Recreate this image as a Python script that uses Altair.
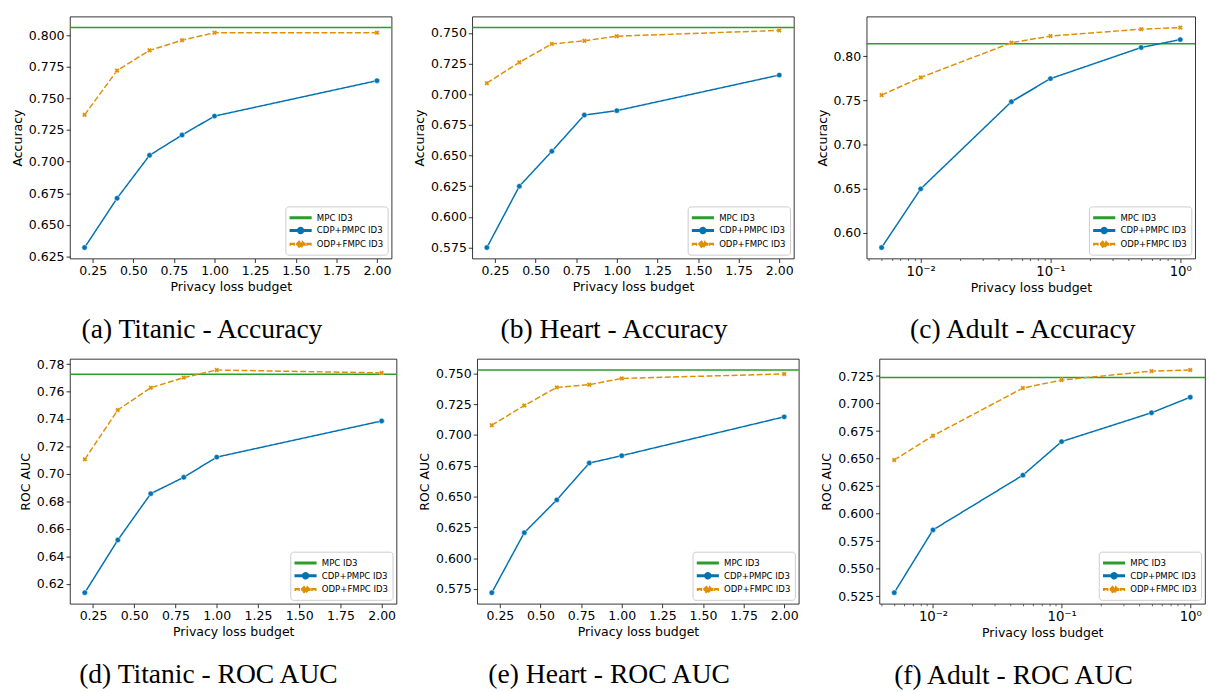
import math
import altair as alt
import pandas as pd

# ---------------- data ----------------
SERIES = ["MPC ID3", "CDP+PMPC ID3", "ODP+FMPC ID3"]
COLORS = ["#2a9d2a", "#0173b2", "#de8f05"]

BUDGET_LIN = [0.2, 0.4, 0.6, 0.8, 1.0, 2.0]
BUDGET_LOG = [0.005, 0.01, 0.05, 0.1, 0.5, 1.0]

TITANIC_ACC_CDP = [0.632, 0.671, 0.705, 0.721, 0.736, 0.764]
TITANIC_ACC_ODP = [0.737, 0.772, 0.788, 0.796, 0.802, 0.802]
TITANIC_ACC_MPC = 0.806

HEART_ACC_CDP = [0.575, 0.625, 0.6535, 0.683, 0.6866, 0.7156]
HEART_ACC_ODP = [0.709, 0.726, 0.741, 0.7435, 0.7473, 0.752]
HEART_ACC_MPC = 0.7543

ADULT_ACC_CDP = [0.583, 0.6496, 0.7485, 0.7747, 0.810, 0.819]
ADULT_ACC_ODP = [0.756, 0.776, 0.8154, 0.823, 0.8308, 0.8326]
ADULT_ACC_MPC = 0.8143

TITANIC_AUC_CDP = [0.6136, 0.6519, 0.6857, 0.6976, 0.7123, 0.7386]
TITANIC_AUC_ODP = [0.7107, 0.7466, 0.7628, 0.7702, 0.7757, 0.7736]
TITANIC_AUC_MPC = 0.7726

HEART_AUC_CDP = [0.572, 0.6207, 0.6473, 0.6772, 0.6832, 0.7147]
HEART_AUC_ODP = [0.7079, 0.7239, 0.7386, 0.7408, 0.7459, 0.7495]
HEART_AUC_MPC = 0.7527

ADULT_AUC_CDP = [0.5283, 0.5853, 0.635, 0.6655, 0.6917, 0.7058]
ADULT_AUC_ODP = [0.6488, 0.6708, 0.7141, 0.7214, 0.7295, 0.7305]
ADULT_AUC_MPC = 0.7238

XTICKS_LIN = [0.25, 0.5, 0.75, 1.0, 1.25, 1.5, 1.75, 2.0]
XTICKS_LOG = [0.004, 0.005, 0.006, 0.007, 0.008, 0.009,
              0.01, 0.02, 0.03, 0.04, 0.05, 0.06, 0.07, 0.08, 0.09,
              0.1, 0.2, 0.3, 0.4, 0.5, 0.6, 0.7, 0.8, 0.9, 1.0]
XTICKS_LOG_MAJOR = [0.01, 0.1, 1.0]
XTICKS_LOG_LABELS = ["10⁻²", "10⁻¹", "10⁰"]

YTICKS_TITANIC_ACC = [0.625, 0.65, 0.675, 0.7, 0.725, 0.75, 0.775, 0.8]
YTICKS_HEART_ACC = [0.575, 0.6, 0.625, 0.65, 0.675, 0.7, 0.725, 0.75]
YTICKS_ADULT_ACC = [0.6, 0.65, 0.7, 0.75, 0.8]
YTICKS_TITANIC_AUC = [0.62, 0.64, 0.66, 0.68, 0.7, 0.72, 0.74, 0.76, 0.78]
YTICKS_HEART_AUC = [0.575, 0.6, 0.625, 0.65, 0.675, 0.7, 0.725, 0.75]
YTICKS_ADULT_AUC = [0.525, 0.55, 0.575, 0.6, 0.625, 0.65, 0.675, 0.7, 0.725]

# ---------------- styling helpers ----------------
FONT = "DejaVu Sans"
LEG_SIZE = 169                       # legend symbol size (13 px box)
UNIT = math.sqrt(LEG_SIZE) / 2.0     # px per path unit


def u(px):
    return round(px / UNIT, 3)


def rect(x0, x1, half):
    return f"M{u(x0)},{u(-half)}H{u(x1)}V{u(half)}H{u(x0)}Z"


def circle(r):
    return (f"M{u(-r)},0A{u(r)},{u(r)} 0 1,0 {u(r)},0"
            f"A{u(r)},{u(r)} 0 1,0 {u(-r)},0Z")


def xmark(arm, w):
    pts = [(-w, -arm), (w, -arm), (w, -w), (arm, -w), (arm, w), (w, w),
           (w, arm), (-w, arm), (-w, w), (-arm, w), (-arm, -w), (-w, -w)]
    c = math.sqrt(0.5)
    rot = [((x - y) * c, (x + y) * c) for x, y in pts]
    return "M" + "L".join(f"{u(x)},{u(y)}" for x, y in rot) + "Z"


HALF_LINE = 10.5
LEG_PATHS = [
    rect(-HALF_LINE, HALF_LINE, 0.7),
    rect(-HALF_LINE, HALF_LINE, 0.7) + circle(3.0),
    "".join(rect(a, b, 0.7) for a, b in [(-10.5, -6.5), (-4.5, -2.0), (2.0, 4.5), (6.5, 10.5)])
    + xmark(3.2, 1.0),
]
DASHES = [[1, 0], [1, 0], [6, 2.5]]


def padded(lo, hi):
    r = hi - lo
    return [lo - 0.05 * r, hi + 0.05 * r]


def panel(budget, cdp, odp, mpc, ylabel, yticks, yfmt, caption, log, w, h, cap_dx=0):
    df = pd.DataFrame({
        "budget": list(budget) * 2,
        "value": list(cdp) + list(odp),
        "series": [SERIES[1]] * len(cdp) + [SERIES[2]] * len(odp),
    })
    mdf = pd.DataFrame({"series": [SERIES[0]], "value": [mpc]})
    allv = list(cdp) + list(odp) + [mpc]
    ydom = padded(min(allv), max(allv))

    if log:
        lo, hi = padded(math.log10(min(budget)), math.log10(max(budget)))
        xscale = alt.Scale(type="log", domain=[10 ** lo, 10 ** hi], nice=False)
        major_test = " || ".join(f"datum.value == {v}" for v in XTICKS_LOG_MAJOR)
        label_expr = " : ".join(
            f"datum.value == {v} ? '{t}'" for v, t in zip(XTICKS_LOG_MAJOR, XTICKS_LOG_LABELS)
        ) + " : ''"
        xaxis = alt.Axis(
            title="Privacy loss budget", values=XTICKS_LOG, labelExpr=label_expr,
            tickSize={"condition": {"test": major_test, "value": 4}, "value": 2},
            tickWidth={"condition": {"test": major_test, "value": 0.8}, "value": 0.6},
            labelOverlap=False, labelFontSize=13.5,
        )
    else:
        xscale = alt.Scale(domain=padded(min(budget), max(budget)), nice=False, zero=False)
        xaxis = alt.Axis(title="Privacy loss budget", values=XTICKS_LIN, format=".2f",
                         labelOverlap=False)

    yscale = alt.Scale(domain=ydom, nice=False, zero=False)
    yaxis = alt.Axis(title=ylabel, values=yticks, format=yfmt, labelOverlap=False)

    X = alt.X("budget:Q", scale=xscale, axis=xaxis)
    Y = alt.Y("value:Q", scale=yscale, axis=yaxis)
    cscale = alt.Scale(domain=SERIES, range=COLORS)

    leg = alt.Legend(
        title=None, orient="bottom-right", offset=4, labelFont=FONT, labelFontSize=8.7,
        labelColor="black", symbolSize=LEG_SIZE, symbolOffset=4, labelOffset=9,
        padding=4, rowPadding=0, strokeColor="#cccccc",
        fillColor="rgba(255,255,255,0.85)", cornerRadius=3,
    )

    legend_layer = alt.Chart(df).transform_filter("false").mark_point(
        filled=True, opacity=1
    ).encode(
        x=X, y=Y,
        color=alt.Color("series:N", scale=cscale, legend=leg),
        shape=alt.Shape("series:N", scale=alt.Scale(domain=SERIES, range=LEG_PATHS), legend=leg),
    )
    rule = alt.Chart(mdf).mark_rule(strokeWidth=1.5).encode(
        y=alt.Y("value:Q", scale=yscale, axis=yaxis),
        color=alt.Color("series:N", scale=cscale, legend=None),
    )
    line = alt.Chart(df).mark_line(strokeWidth=1.5).encode(
        x=X, y=Y,
        color=alt.Color("series:N", scale=cscale, legend=None),
        strokeDash=alt.StrokeDash("series:N", scale=alt.Scale(domain=SERIES, range=DASHES), legend=None),
    )
    pts_c = alt.Chart(df).transform_filter(alt.datum.series == SERIES[1]).mark_point(
        shape="circle", filled=True, size=30, opacity=1, stroke="white", strokeWidth=0.5
    ).encode(x=X, y=Y, color=alt.Color("series:N", scale=cscale, legend=None))
    pts_o = alt.Chart(df).transform_filter(alt.datum.series == SERIES[2]).mark_point(
        shape="cross", angle=45, filled=True, size=26, opacity=1, stroke="white", strokeWidth=0.3
    ).encode(x=X, y=Y, color=alt.Color("series:N", scale=cscale, legend=None))

    return alt.layer(legend_layer, rule, line, pts_c, pts_o).properties(
        width=w, height=h,
        title=alt.TitleParams(
            text=caption, orient="bottom", anchor="middle", frame="bounds",
            font="Liberation Serif", fontSize=28, fontWeight="normal", color="black",
            offset=23, dx=cap_dx,
        ),
    )


INDEP = dict(color="independent", shape="independent", strokeDash="independent",
             x="independent", y="independent")

a = panel(BUDGET_LIN, TITANIC_ACC_CDP, TITANIC_ACC_ODP, TITANIC_ACC_MPC, "Accuracy",
          YTICKS_TITANIC_ACC, ".3f", "(a) Titanic - Accuracy", False, 327, 246)
b = panel(BUDGET_LIN, HEART_ACC_CDP, HEART_ACC_ODP, HEART_ACC_MPC, "Accuracy",
          YTICKS_HEART_ACC, ".3f", "(b) Heart - Accuracy", False, 327, 246, cap_dx=10)
c = panel(BUDGET_LOG, ADULT_ACC_CDP, ADULT_ACC_ODP, ADULT_ACC_MPC, "Accuracy",
          YTICKS_ADULT_ACC, ".2f", "(c) Adult - Accuracy", True, 334, 246, cap_dx=17)
d = panel(BUDGET_LIN, TITANIC_AUC_CDP, TITANIC_AUC_ODP, TITANIC_AUC_MPC, "ROC AUC",
          YTICKS_TITANIC_AUC, ".2f", "(d) Titanic - ROC AUC", False, 332, 249)
e = panel(BUDGET_LIN, HEART_AUC_CDP, HEART_AUC_ODP, HEART_AUC_MPC, "ROC AUC",
          YTICKS_HEART_AUC, ".3f", "(e) Heart - ROC AUC", False, 327, 249)
f = panel(BUDGET_LOG, ADULT_AUC_CDP, ADULT_AUC_ODP, ADULT_AUC_MPC, "ROC AUC",
          YTICKS_ADULT_AUC, ".3f", "(f) Adult - ROC AUC", True, 331, 249)

row1 = alt.hconcat(a, b, c, spacing=20).resolve_scale(**INDEP)
row2 = alt.hconcat(d, e, f, spacing=20).resolve_scale(**INDEP)

chart = alt.vconcat(row1, row2, spacing=12).resolve_scale(**INDEP).properties(
    padding={"left": 3, "top": 2, "right": 0, "bottom": 0}
).configure_axis(
    labelFont=FONT, labelFontSize=12.7, labelColor="black",
    titleFont=FONT, titleFontSize=12.7, titleFontWeight="normal", titleColor="black",
    tickColor="black", tickWidth=0.8, tickSize=4, labelPadding=2, titlePadding=4,
    grid=False, domain=False, labelFlush=False,
).configure_view(
    stroke="black", strokeWidth=0.8,
)

chart.save("out.html", embed_options={"renderer": "svg", "actions": False})
